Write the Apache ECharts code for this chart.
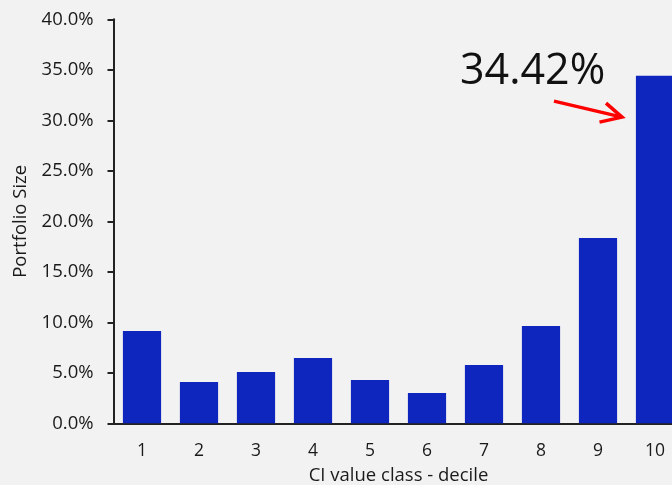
<!DOCTYPE html>
<html>
<head>
<meta charset="utf-8">
<script src="https://cdn.jsdelivr.net/npm/echarts@6/dist/echarts.min.js"></script>
<style>
  html, body { margin: 0; padding: 0; background: #f2f2f2; overflow: hidden; }
  #chart { width: 672px; height: 485px; }
</style>
</head>
<body>
<div id="chart"></div>
<script>
// Portfolio share per CI value decile (percent)
const deciles = ['1', '2', '3', '4', '5', '6', '7', '8', '9', '10'];
const portfolioShare = [9.14, 4.09, 5.08, 6.47, 4.29, 3.0, 5.77, 9.64, 18.35, 34.42];
const yTicks = [0, 5, 10, 15, 20, 25, 30, 35, 40];

const FONT = 'Open Sans';
const chart = echarts.init(document.getElementById('chart'));

chart.setOption({
  backgroundColor: '#f2f2f2',
  animation: false,
  // the last bar is allowed to run past the right edge
  grid: { left: 113.5, top: 19.3, width: 570, height: 404, outerBoundsMode: 'none', containLabel: false },
  xAxis: {
    type: 'category',
    data: deciles,
    name: 'CI value class - decile',
    nameLocation: 'middle',
    nameGap: 43,
    nameTextStyle: { fontFamily: FONT, fontSize: 18.5, color: '#1a1a1a' },
    axisLine: { lineStyle: { color: '#222', width: 2 } },
    axisTick: { alignWithLabel: true, length: 5, lineStyle: { color: '#222', width: 2 } },
    axisLabel: { fontFamily: FONT, fontSize: 17.5, color: '#1a1a1a', margin: 19 }
  },
  yAxis: {
    type: 'value',
    min: yTicks[0],
    max: yTicks[yTicks.length - 1],
    interval: yTicks[1] - yTicks[0],
    name: 'Portfolio Size',
    nameLocation: 'middle',
    nameGap: 81,
    nameTextStyle: { fontFamily: FONT, fontSize: 18.5, color: '#1a1a1a' },
    splitLine: { show: false },
    axisLine: { show: true, lineStyle: { color: '#222', width: 2 } },
    axisTick: { show: true, length: 6, lineStyle: { color: '#222', width: 2 } },
    axisLabel: {
      fontFamily: FONT, fontSize: 18.5, color: '#1a1a1a', margin: 20,
      formatter: v => v.toFixed(1) + '%'
    }
  },
  series: [{
    type: 'bar',
    data: portfolioShare,
    barCategoryGap: '33%',
    itemStyle: { color: '#0e26be' }
  }]
});

// Callout for the top decile: value text and a red arrow pointing at its bar
const lastIdx = portfolioShare.length - 1;
const barTop = chart.convertToPixel({ seriesIndex: 0 }, [lastIdx, portfolioShare[lastIdx]]);
const tip = [barTop[0] - 33, barTop[1] + 41.5];
const tail = [tip[0] - 68, tip[1] - 16];
chart.setOption({
  graphic: [
    {
      type: 'text',
      left: barTop[0] - 195,
      top: barTop[1] - 25,
      style: {
        text: portfolioShare[lastIdx].toFixed(2) + '%',
        fontFamily: FONT, fontSize: 43, fill: '#111'
      }
    },
    {
      type: 'polyline',
      shape: { points: [tail, tip] },
      style: { stroke: '#ff0000', lineWidth: 3.5, fill: null }
    },
    {
      type: 'polyline',
      shape: { points: [[tip[0] - 16, tip[1] - 14], tip, [tip[0] - 22.5, tip[1] + 5]] },
      style: { stroke: '#ff0000', lineWidth: 3.5, fill: null, lineJoin: 'miter' }
    }
  ]
});
</script>
</body>
</html>
